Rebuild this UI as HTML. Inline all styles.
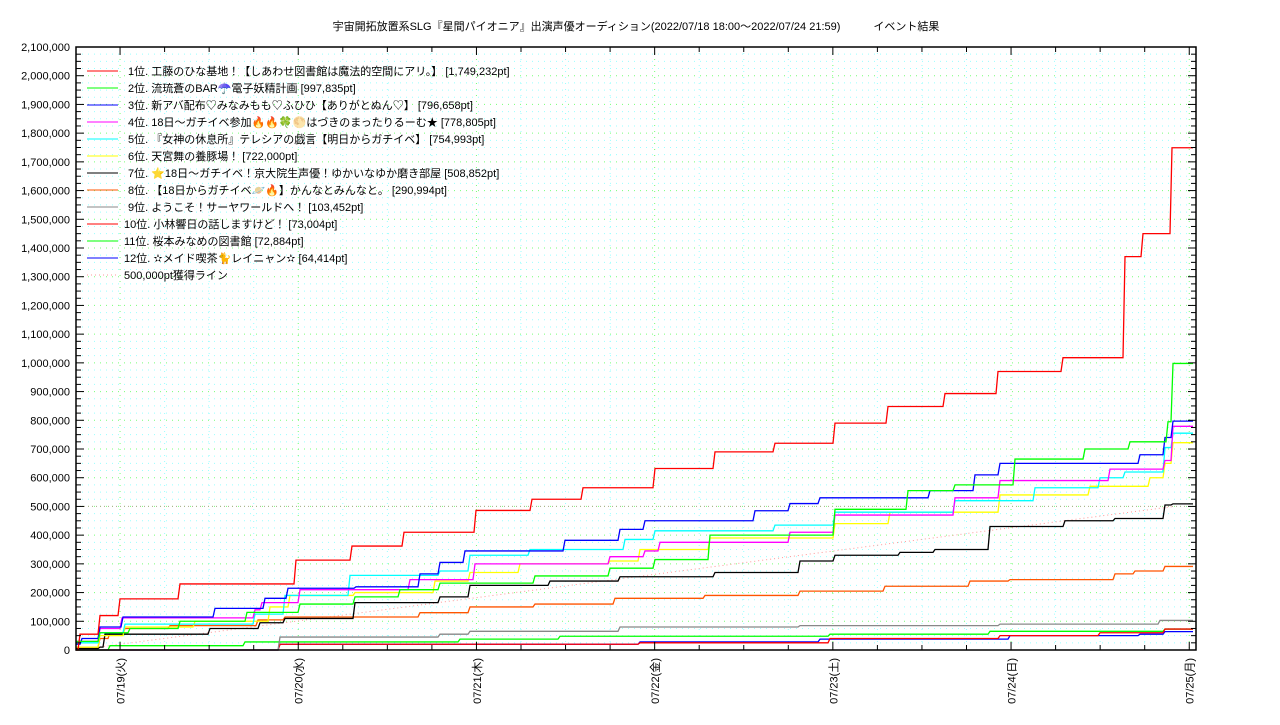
<!DOCTYPE html>
<html><head><meta charset="utf-8"><style>
body{margin:0;background:#fff;width:1280px;height:720px;overflow:hidden}
svg{font-family:"Liberation Sans","Noto Sans CJK JP",sans-serif}
</style></head><body>
<svg id="s" width="1280" height="720" xmlns="http://www.w3.org/2000/svg">
<text x="636" y="30" font-size="11" text-anchor="middle">宇宙開拓放置系SLG『星間パイオニア』出演声優オーディション(2022/07/18 18:00〜2022/07/24 21:59)　　　イベント結果</text>
<g id="grid"></g><g id="ser"></g>
<rect x="76" y="47" width="1120" height="603" fill="none" stroke="#000" stroke-width="1.5"/>
<g id="ax" font-size="11"></g>
<g id="leg" font-size="11"></g>
</svg>
<script>
const NS="http://www.w3.org/2000/svg";
function el(p,t,a,txt){const e=document.createElementNS(NS,t);for(const k in a)e.setAttribute(k,a[k]);if(txt!=null)e.textContent=txt;p.appendChild(e);return e;}
const Y=v=>650-v*603/2.1e6;
const g=document.getElementById('grid'),ax=document.getElementById('ax'),ser=document.getElementById('ser'),leg=document.getElementById('leg');
for(let v=25000;v<2100000;v+=25000){const y=Y(v),maj=v%100000==0;
 el(g,'line',{x1:76,x2:1196,y1:y,y2:y,stroke:maj?'#7f7':'#9ff','stroke-dasharray':'1 5'});}
for(let i=1;i<26;i++){const x=75.5+i*44.55,maj=(i-1)%4==0;
 el(g,'line',{x1:x,x2:x,y1:47,y2:650,stroke:maj?'#7f7':'#9ff','stroke-dasharray':'1 5'});
 el(ax,'line',{x1:x,x2:x,y1:650,y2:maj?642:645,stroke:'#000'});el(ax,'line',{x1:x,x2:x,y1:47,y2:maj?55:52,stroke:'#000'});}
for(let v=0;v<=2100000;v+=25000){const y=Y(v),maj=v%100000==0,l=maj?8:5;
 el(ax,'line',{x1:76,x2:76+l,y1:y,y2:y,stroke:'#000'});el(ax,'line',{x1:1196,x2:1196-l,y1:y,y2:y,stroke:'#000'});
 if(maj)el(ax,'text',{x:70,y:y+4,'text-anchor':'end'},v.toLocaleString('en-US'));}
const days=['07/19(火)','07/20(水)','07/21(木)','07/22(金)','07/23(土)','07/24(日)','07/25(月)'];
days.forEach((d,i)=>{const x=120.5+i*178.2;el(ax,'text',{transform:`translate(${x+4},658) rotate(-90)`,'text-anchor':'end'},d);});
// 500k lines
el(ser,'line',{x1:76,x2:1196,y1:Y(500000),y2:Y(500000),stroke:'#aa8',"stroke-dasharray":"1 3"});
el(ser,'line',{x1:76,x2:1174,y1:650,y2:Y(500000),stroke:'#f99',"stroke-dasharray":"1 3"});
const S=[
['#f00','1位. 工藤のひな基地！【しあわせ図書館は魔法的空間にアリ。】 [1,749,232pt]',[[76,0],[80,55],[100,120],[120,178],[180,230],[296,313],[352,362],[404,410],[476,486],[532,525],[583,565],[655,632],[715,690],[775,720],[835,790],[888,848],[945,893],[998,970],[1063,1018],[1125,1370],[1143,1450],[1172,1749]]],
['#0f0','2位. 流琉蒼のBAR☂️電子妖精計画 [997,835pt]',[[76,30],[100,60],[130,75],[180,100],[247,131],[300,160],[355,185],[400,210],[440,233],[535,258],[610,285],[655,315],[710,400],[835,490],[908,555],[955,575],[1015,665],[1085,700],[1130,725],[1168,795],[1173,998]]],
['#00f','3位. 新アバ配布♡みなみもも♡ふひひ【ありがとぬん♡】 [796,658pt]',[[76,20],[82,40],[100,80],[123,115],[215,145],[265,180],[288,215],[356,220],[420,265],[440,305],[465,345],[565,382],[620,420],[645,450],[755,485],[790,510],[820,530],[930,555],[975,610],[1000,650],[1140,680],[1165,740],[1173,797]]],
['#f0f','4位. 18日〜ガチイベ参加🔥🔥🍀🌕はづきのまったりるーむ★ [778,805pt]',[[76,30],[100,75],[122,112],[255,140],[262,165],[300,210],[410,245],[475,300],[610,325],[645,345],[660,375],[790,410],[835,470],[955,530],[1000,590],[1110,630],[1165,660],[1173,779]]],
['#0ff','5位. 『女神の休息所』テレシアの戯言【明日からガチイベ】 [754,993pt]',[[76,25],[100,60],[125,90],[255,125],[285,190],[350,260],[440,275],[470,330],[530,350],[625,385],[655,415],[775,435],[835,480],[955,520],[1035,565],[1100,600],[1125,620],[1165,705],[1173,755]]],
['#ff0','6位. 天宮舞の養豚場！ [722,000pt]',[[76,10],[100,50],[125,80],[195,100],[270,150],[290,190],[355,200],[435,240],[470,270],[520,300],[610,310],[640,350],[710,390],[835,440],[890,480],[1000,540],[1090,570],[1150,600],[1165,650],[1173,722]]],
['#000','7位. ⭐18日〜ガチイベ！京大院生声優！ゆかいなゆか磨き部屋 [508,852pt]',[[76,5],[100,10],[105,55],[210,75],[260,95],[285,110],[355,165],[440,185],[470,225],[550,240],[620,255],[715,270],[800,310],[835,330],[900,340],[935,350],[990,430],[1065,450],[1115,458],[1165,505],[1173,509]]],
['#f50','8位. 【18日からガチイベ🪐🔥】かんなとみんなと。 [290,994pt]',[[76,10],[100,40],[110,60],[125,75],[170,85],[258,105],[285,115],[420,130],[470,150],[535,160],[615,180],[705,190],[800,205],[885,222],[970,240],[1010,245],[1115,265],[1135,275],[1165,291]]],
['#888','9位. ようこそ！サーヤワールドへ！ [103,452pt]',[[76,0],[280,45],[440,55],[470,65],[620,80],[800,85],[1000,90],[1160,103]]],
['#f00','10位. 小林響日の話しますけど！ [73,004pt]',[[76,0],[280,20],[640,25],[830,40],[1000,50],[1100,60],[1165,73]]],
['#0f0','11位. 桜本みなめの図書館 [72,884pt]',[[76,0],[110,15],[245,28],[460,38],[560,48],[830,55],[990,65],[1165,73]]],
['#00f','12位. ✫メイド喫茶🐈レイニャン✫ [64,414pt]',[[76,0],[280,20],[640,28],[820,38],[1010,50],[1140,55],[1165,64]]]
];
S.slice().reverse().forEach(([c,n,p])=>{let d=`M${p[0][0]},${Y(p[0][1]*1000)}`;
 for(let i=1;i<p.length;i++){d+=` L${p[i][0]-2},${Y(p[i-1][1]*1000)} L${p[i][0]},${Y(p[i][1]*1000)}`;}
 d+=` L1193,${Y(p[p.length-1][1]*1000)}`;el(ser,'path',{d,fill:'none',stroke:c,'stroke-width':1.3});});
S.forEach(([c,n],i)=>{const y=71+i*17;el(leg,'line',{x1:87,x2:118,y1:y,y2:y,stroke:c});
 el(leg,'text',{x:i>=9?124:128,y:y+4},n);});
const y=71+12*17;el(leg,'line',{x1:87,x2:118,y1:y,y2:y,stroke:'#f99','stroke-dasharray':'1 3'});el(leg,'text',{x:124,y:y+4},'500,000pt獲得ライン');
</script>
</body></html>
